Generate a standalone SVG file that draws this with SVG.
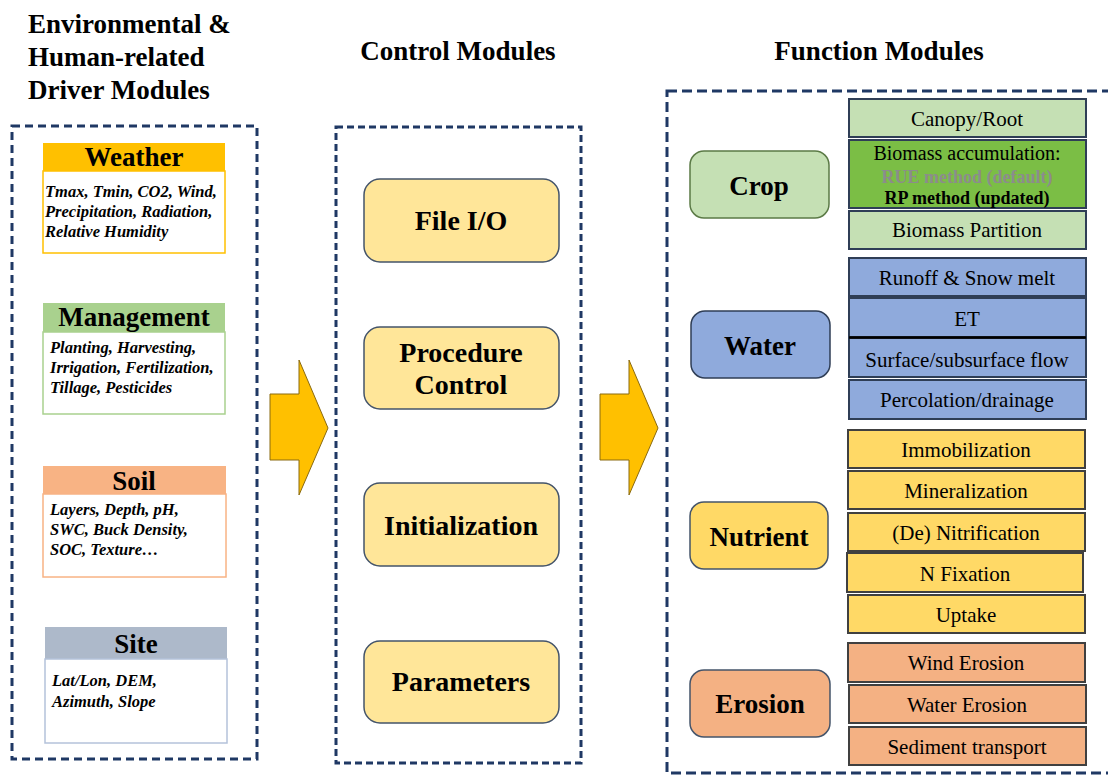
<svg xmlns="http://www.w3.org/2000/svg" width="1108" height="776" viewBox="0 0 1108 776">
<style>
text{font-family:"Liberation Serif","Times New Roman",serif;fill:#000}
.title{font-size:27px;font-weight:bold}
.mid{text-anchor:middle}
.dash{fill:none;stroke:#1F3864;stroke-width:3;stroke-dasharray:8 5}
.hd{font-size:27px;font-weight:bold;text-anchor:middle}
.bi{font-size:16.5px;font-weight:bold;font-style:italic}
.body{fill:#fff;stroke-width:1.5}
.ctl rect{fill:#FFE699;stroke:#44546A;stroke-width:1.5}
.ctl text{font-size:28px;font-weight:bold;text-anchor:middle}
.fn rect{stroke:#44546A;stroke-width:1.5}
.fn text{font-size:27px;font-weight:bold;text-anchor:middle}
.item rect{stroke:#2F3E56;stroke-width:2}
.item text{font-size:21px;text-anchor:middle}
.arrow{fill:#FFC000;stroke:#8A6A10;stroke-width:1}
</style>

<!-- Titles -->
<g id="titles">
<text class="title" x="28" y="33">Environmental &amp;</text>
<text class="title" x="28" y="66">Human-related</text>
<text class="title" x="28" y="99">Driver Modules</text>
<text class="title mid" x="458" y="60">Control Modules</text>
<text class="title mid" x="879" y="60">Function Modules</text>
</g>

<!-- Dashed containers -->
<g id="containers">
<rect class="dash" x="12" y="126" width="245" height="633"/>
<rect class="dash" x="336" y="127" width="245" height="636" style="stroke-dasharray:7 4"/>
<rect class="dash" x="667" y="91" width="446" height="682" style="stroke-dasharray:10 5"/>
</g>

<!-- Driver modules -->
<g id="weather">
<rect x="43" y="143" width="182" height="28" fill="#FFC000"/>
<rect class="body" x="43" y="171" width="182" height="82" stroke="#FFC000"/>
<text class="hd" x="134" y="166">Weather</text>
<text class="bi" x="45" y="197">Tmax, Tmin, CO2, Wind,</text>
<text class="bi" x="45" y="217">Precipitation, Radiation,</text>
<text class="bi" x="45" y="237">Relative Humidity</text>
</g>
<g id="management">
<rect x="43" y="303" width="182" height="29" fill="#A9D18E"/>
<rect class="body" x="43" y="332" width="182" height="82" stroke="#A9D18E"/>
<text class="hd" x="134" y="326">Management</text>
<text class="bi" x="50" y="353">Planting, Harvesting,</text>
<text class="bi" x="50" y="373">Irrigation, Fertilization,</text>
<text class="bi" x="50" y="393">Tillage, Pesticides</text>
</g>
<g id="soil">
<rect x="43" y="466" width="183" height="28" fill="#F8B384"/>
<rect class="body" x="43" y="494" width="183" height="83" stroke="#F8B384"/>
<text class="hd" x="134" y="490">Soil</text>
<text class="bi" x="50" y="515">Layers, Depth, pH,</text>
<text class="bi" x="50" y="535">SWC, Buck Density,</text>
<text class="bi" x="50" y="555">SOC, Texture…</text>
</g>
<g id="site">
<rect x="45" y="627" width="182" height="32" fill="#ADB9CA"/>
<rect class="body" x="45" y="659" width="182" height="84" stroke="#B4C2DA"/>
<text class="hd" x="136" y="653">Site</text>
<text class="bi" x="52" y="686">Lat/Lon, DEM,</text>
<text class="bi" x="52" y="707">Azimuth, Slope</text>
</g>

<!-- Control modules -->
<g id="file-io" class="ctl">
<rect x="364" y="179" width="195" height="83" rx="16"/>
<text x="461" y="230">File I/O</text>
</g>
<g id="procedure-control" class="ctl">
<rect x="364" y="327" width="195" height="82" rx="16"/>
<text x="461" y="362">Procedure</text>
<text x="461" y="394">Control</text>
</g>
<g id="initialization" class="ctl">
<rect x="364" y="483" width="195" height="83" rx="16"/>
<text x="461" y="535">Initialization</text>
</g>
<g id="parameters" class="ctl">
<rect x="364" y="641" width="195" height="82" rx="16"/>
<text x="461" y="691">Parameters</text>
</g>

<!-- Connectors (block arrows) -->
<g id="connectors">
<polygon class="arrow" points="270,394 299,394 299,360 328,428 299,495 299,460 270,460"/>
<polygon class="arrow" points="600,394 629,394 629,360 658,428 629,495 629,460 600,460"/>
</g>

<!-- Function modules -->
<g id="crop" class="fn">
<rect x="690" y="151" width="139" height="67" rx="14" fill="#C5E0B4" style="stroke:#5B7A46"/>
<text x="759" y="195">Crop</text>
</g>
<g id="crop-items" class="item">
<rect x="849" y="99" width="237" height="38" fill="#C5E0B4"/>
<text x="967" y="126">Canopy/Root</text>
<rect x="849" y="140" width="237" height="68" fill="#7BBE45"/>
<text x="967" y="160" style="font-size:20px">Biomass accumulation:</text>
<text x="967" y="183" style="font-size:18px;font-weight:bold;fill:#8C8C8C">RUE method (default)</text>
<text x="967" y="204" style="font-size:18px;font-weight:bold">RP method (updated)</text>
<rect x="849" y="211" width="237" height="38" fill="#C5E0B4"/>
<text x="967" y="237">Biomass Partition</text>
</g>

<g id="water" class="fn">
<rect x="691" y="311" width="139" height="67" rx="14" fill="#8FAADC" style="stroke:#2F3E56"/>
<text x="760" y="355">Water</text>
</g>
<g id="water-items" class="item">
<rect x="849" y="258" width="237" height="38" fill="#8FAADC"/>
<text x="967" y="285">Runoff &amp; Snow melt</text>
<rect x="849" y="298" width="237" height="39" fill="#8FAADC"/>
<text x="967" y="326">ET</text>
<rect x="849" y="338" width="237" height="39" fill="#8FAADC"/>
<text x="967" y="367">Surface/subsurface flow</text>
<rect x="849" y="380" width="237" height="39" fill="#8FAADC"/>
<text x="967" y="407">Percolation/drainage</text>
<line x1="849" y1="337.5" x2="1086" y2="337.5" stroke="#000" stroke-width="2.5"/>
</g>

<g id="nutrient" class="fn">
<rect x="690" y="502" width="138" height="67" rx="14" fill="#FFD966"/>
<text x="759" y="546">Nutrient</text>
</g>
<g id="nutrient-items" class="item">
<rect x="848" y="430" width="237" height="38" fill="#FFD966" style="stroke:#404040"/>
<text x="966" y="457">Immobilization</text>
<rect x="848" y="471" width="237" height="38" fill="#FFD966" style="stroke:#404040"/>
<text x="966" y="498">Mineralization</text>
<rect x="848" y="513" width="237" height="38" fill="#FFD966" style="stroke:#404040"/>
<text x="966" y="540">(De) Nitrification</text>
<rect x="847" y="553" width="236" height="39" fill="#FFD966" style="stroke:#404040"/>
<text x="965" y="581">N Fixation</text>
<rect x="848" y="595" width="237" height="38" fill="#FFD966" style="stroke:#404040"/>
<text x="966" y="622">Uptake</text>
</g>

<g id="erosion" class="fn">
<rect x="690" y="670" width="140" height="67" rx="14" fill="#F4B183"/>
<text x="760" y="713">Erosion</text>
</g>
<g id="erosion-items" class="item">
<rect x="848" y="643" width="237" height="39" fill="#F4B183" style="stroke:#404040"/>
<text x="966" y="670">Wind Erosion</text>
<rect x="849" y="685" width="237" height="38" fill="#F4B183" style="stroke:#404040"/>
<text x="967" y="712">Water Erosion</text>
<rect x="849" y="727" width="237" height="38" fill="#F4B183" style="stroke:#404040"/>
<text x="967" y="754">Sediment transport</text>
</g>
</svg>
